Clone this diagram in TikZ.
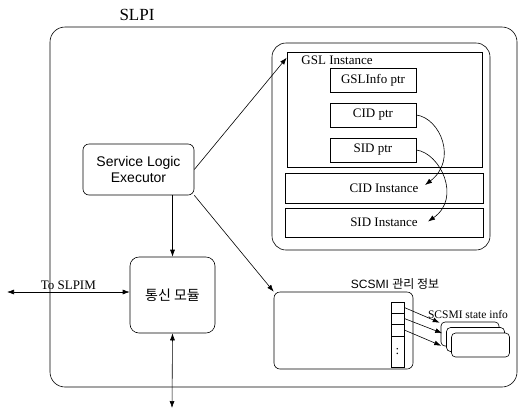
\documentclass[tikz,border=0pt]{standalone}
\usepackage{fontspec}
\setmainfont{Liberation Serif}
\setsansfont{Liberation Sans}
\newfontfamily\kor{Noto Sans CJK KR}
\usetikzlibrary{arrows.meta}

\tikzset{
  field/.style={draw,minimum width=86pt,minimum height=24pt,inner sep=0pt},
  instbox/.style={draw,minimum width=198pt,minimum height=29pt,inner sep=0pt},
  cell/.style={draw,minimum width=13pt,inner sep=0pt},
  stinfo/.style={draw,fill=white,rounded corners=4pt,minimum width=58pt,minimum height=24pt}
}

\begin{document}
\begin{tikzpicture}[x=1pt,y=-1pt,>={Latex[length=7pt,width=5pt]},line width=0.6pt,
                    font=\fontsize{13}{15}\selectfont]
  \useasboundingbox (0,0) rectangle (518,413);

  % SLPI frame
  \node[draw,rounded corners=15pt,minimum width=467pt,minimum height=360pt] (slpi) at (283.5,207) {};
  \node[font=\fontsize{17}{17}\selectfont] (slpiname) at (137,15) {SLPI};

  % GSL instance and the instances it points to
  \node[draw,rounded corners=14pt,minimum width=218pt,minimum height=207pt] (gsl) at (381,146.5) {};
  \node[draw,minimum width=195pt,minimum height=115pt] (gslinst) at (384.5,109.5) {};
  \node (gslname) at (337,60) {GSL Instance};
  \begin{scope}
    \tikzstyle{every node}=[field]
    \node (gslinfo) at (373,80)  {GSLInfo ptr};
    \node (cidptr)  at (373,115) {CID ptr};
    \node (sidptr)  at (373,150) {SID ptr};
  \end{scope}
  \node[instbox,minimum height=30pt] (cidinst) at (384,188) {CID Instance};
  \node[instbox] (sidinst) at (384,222.5) {SID Instance};
  \draw[->] (cidptr.east) .. controls (440,118) and (458,160) .. ([xshift=41pt,yshift=3pt]cidinst.center);
  \draw[->] (sidptr.east) .. controls (440,153) and (462,198) .. ([xshift=44pt,yshift=1pt]sidinst.center);

  % executor and comm module
  \node[draw,rounded corners=6pt,minimum width=111pt,minimum height=51pt,align=center,
        font=\sffamily\fontsize{14}{16}\selectfont] (sle) at (138.5,169.5) {Service Logic\\Executor};
  \node[draw,rounded corners=9pt,minimum width=85pt,minimum height=76pt,
        font=\kor\fontsize{14}{16}\selectfont] (comm) at (172.5,295) {통신 모듈};
  \coordinate (slpim) at (7,292);
  \coordinate (below) at (172,408);

  % SCSMI data
  \node[draw,rounded corners=6pt,minimum width=139pt,minimum height=77pt] (scsmi) at (343.5,330.5) {};
  \node[font=\sffamily\fontsize{12}{14}\selectfont] (scsminame) at (395,284) {SCSMI {\kor 관리 정보}};
  \begin{scope}
    \tikzstyle{every node}=[cell]
    \node[minimum height=11pt] (c1) at (397.5,307.5) {};
    \node[minimum height=11pt] (c2) at (397.5,318.5) {};
    \node[minimum height=12pt] (c3) at (397.5,330)   {};
    \node[minimum height=31pt] (c4) at (397.5,351.5) {:};
  \end{scope}
  \node[stinfo] (st1) at (470,334) {};
  \node[stinfo] (st2) at (475.5,339.5) {};
  \node[stinfo] (st3) at (480.5,345) {};
  \node[font=\fontsize{11.5}{13}\selectfont] (stname) at (468,314) {SCSMI state info};
  \draw[->] (c1.east) -- ([xshift=-1pt,yshift=-1pt]st1.north west);
  \draw[->] (c2.east) -- ([xshift=-4pt,yshift=-6pt]st2.north west);
  \draw[->] (c3.east) -- ([xshift=-10pt,yshift=-13pt]st3.north west);

  % links
  \draw[->] (sle.east) -- ([yshift=-6pt]gslinst.north west);
  \draw[->] (sle.south east) -- (scsmi.north west);
  \draw[->] (sle.south -| comm.north) -- (comm.north);
  \draw[<->] (slpim) -- node[above,inner sep=2pt] (slpimname) {To SLPIM} (slpim -| comm.west);
  \draw[<->] (comm.south) -- (below);
\end{tikzpicture}
\end{document}
